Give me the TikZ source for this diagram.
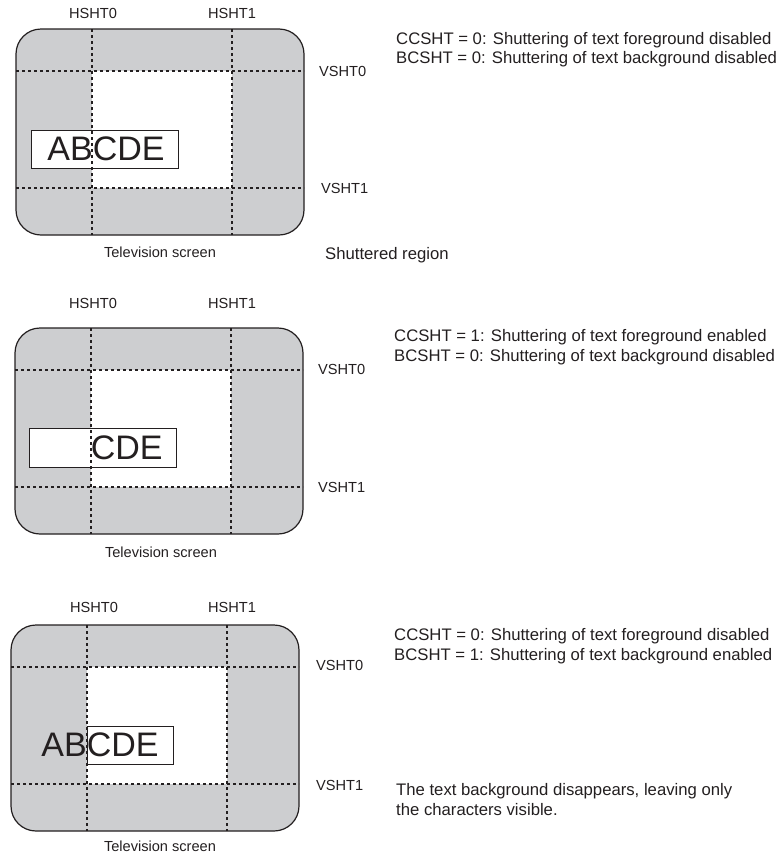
\documentclass[tikz,border=0pt]{standalone}
\usepackage{fontspec}
\setmainfont{Liberation Sans}
\usepackage{tikz}
\usetikzlibrary{positioning, calc}
\definecolor{ink}{HTML}{231F20}
\definecolor{shuttergray}{HTML}{CDCED0}

\tikzset{
  screen/.style={draw=ink, line width=1.2pt, rounded corners=25pt},
  gridline/.style={draw=ink, line width=1.1pt, dash pattern=on 3pt off 3pt},
  textbox/.style={draw=ink, line width=1pt, fill=white, inner sep=0pt},
  chars/.style={font=\fontsize{34}{40}\selectfont, text=ink, inner sep=0pt},
  lbl/.style={font=\fontsize{14.6}{17}\selectfont, text=ink, inner sep=0pt},
  note/.style={font=\fontsize{16.7}{19.5}\selectfont, text=ink, align=left,
               anchor=west, inner sep=0pt},
}

\begin{document}
\begin{tikzpicture}[x=1pt, y=-1pt]
  \useasboundingbox (0,0) rectangle (781,857);
  % ---- screens: shuttered border, open window in the middle ----
  \foreach \sx/\sy in {16/29, 15/328, 11/625}{
    \fill[shuttergray, rounded corners=25pt] (\sx,\sy) rectangle ++(288,206);
    \fill[white] (\sx+76,\sy+42) rectangle (\sx+216,\sy+159);
  }
  % ---- 1: nothing shuttered ----
  \node[textbox, minimum width=147pt, minimum height=38pt] (boxa) at (104.5,149) {};
  \node[chars] (charsa) at (106,149) {ABCDE};
  % ---- 2: foreground shuttered ----
  \node[textbox, minimum width=147pt, minimum height=39pt] (boxb) at (102.5,447.5) {};
  \begin{scope}
    \clip (90,369) rectangle (230,487);
    \node[chars] (charsb) at (104,447.5) {ABCDE};
  \end{scope}
  % ---- 3: background shuttered ----
  \node[textbox, minimum width=86pt, minimum height=38pt] (boxc) at (130,745) {};
  \node[chars] (charsc) at (100,745) {ABCDE};
  % ---- shutter lines and screen outline ----
  \foreach \sx/\sy in {16/29, 15/328, 11/625}{
    \draw[gridline] (\sx+76,\sy) -- (\sx+76,\sy+206);
    \draw[gridline] (\sx+216,\sy) -- (\sx+216,\sy+206);
    \draw[gridline] (\sx,\sy+42) -- (\sx+288,\sy+42);
    \draw[gridline] (\sx,\sy+159) -- (\sx+288,\sy+159);
    \draw[screen] (\sx,\sy) rectangle ++(288,206);
  }
  % ---- labels, panel 1 ----
  \node[lbl] (ha0) at (93,13) {HSHT0};
  \node[lbl] (ha1) at (232,13) {HSHT1};
  \node[lbl, anchor=west] (va0) at (319,71) {VSHT0};
  \node[lbl, anchor=west] (va1) at (321,188) {VSHT1};
  \node[lbl] (tva) at (160,252) {Television screen};
  \node[note] (shut) at (325,255) {Shuttered region};
  \node[note] (notea) at (396,49.5)
       {CCSHT = 0: Shuttering of text foreground disabled\\
        BCSHT = 0: Shuttering of text background disabled};
  % ---- labels, panel 2 ----
  \node[lbl] (hb0) at (93,303) {HSHT0};
  \node[lbl] (hb1) at (232,303) {HSHT1};
  \node[lbl, anchor=west] (vb0) at (318,369) {VSHT0};
  \node[lbl, anchor=west] (vb1) at (318,487) {VSHT1};
  \node[lbl] (tvb) at (161,552) {Television screen};
  \node[note] (noteb) at (394,347)
       {CCSHT = 1: Shuttering of text foreground enabled\\
        BCSHT = 0: Shuttering of text background disabled};
  % ---- labels, panel 3 ----
  \node[lbl] (hc0) at (94,607) {HSHT0};
  \node[lbl] (hc1) at (232,607) {HSHT1};
  \node[lbl, anchor=west] (vc0) at (316,665) {VSHT0};
  \node[lbl, anchor=west] (vc1) at (316,785) {VSHT1};
  \node[lbl] (tvc) at (160,846) {Television screen};
  \node[note] (notec) at (394,646)
       {CCSHT = 0: Shuttering of text foreground disabled\\
        BCSHT = 1: Shuttering of text background enabled};
  \node[note] (noted) at (396,799.5)
       {The text background disappears, leaving only\\
        the characters visible.};
\end{tikzpicture}
\end{document}
